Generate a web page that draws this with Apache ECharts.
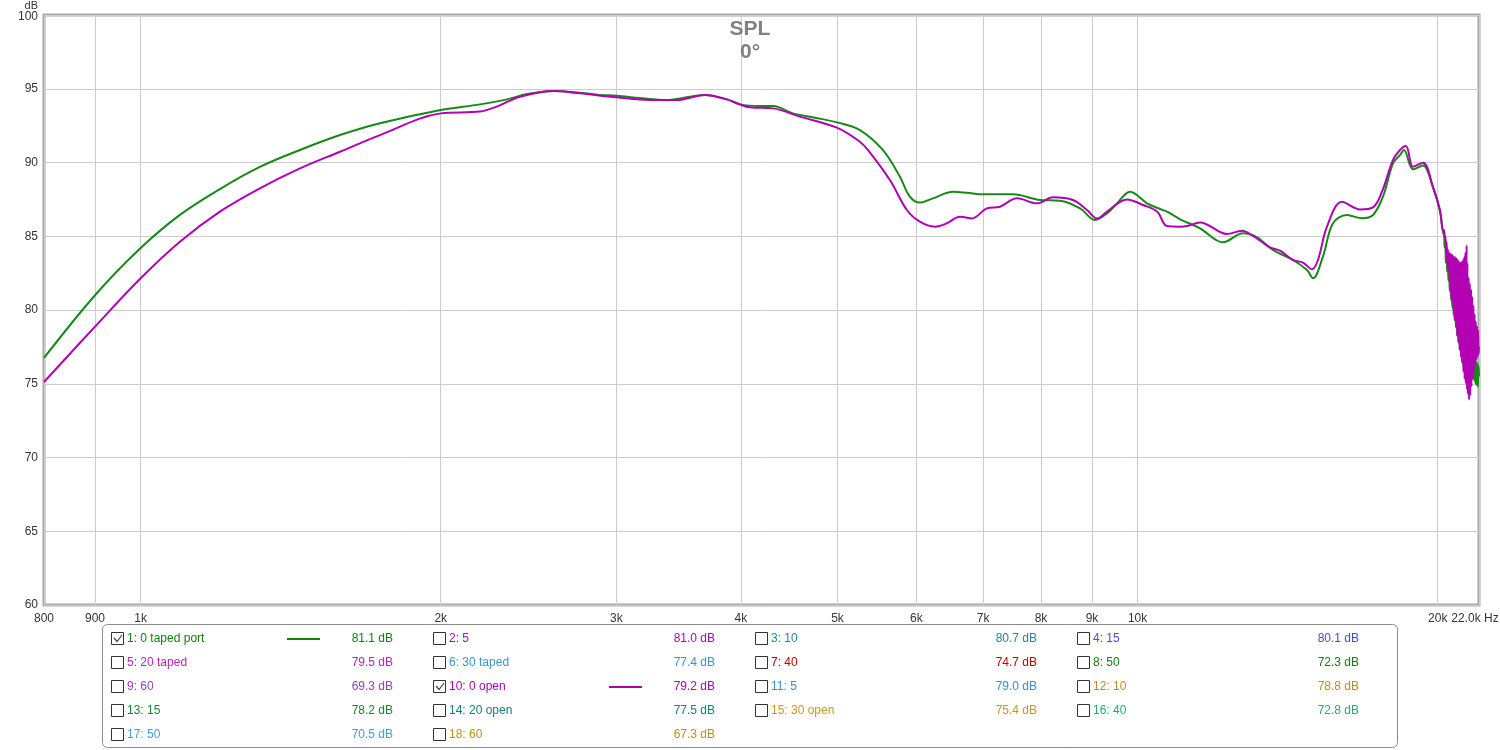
<!DOCTYPE html>
<html>
<head>
<meta charset="utf-8">
<script src="https://cdn.jsdelivr.net/npm/echarts@6/dist/echarts.min.js"></script>
<style>
html,body{margin:0;padding:0;background:#fff;}
#chart{width:1500px;height:750px;}
</style>
</head>
<body>
<div id="chart"></div>
<script>
// ---- Data ----
const xTickValues = [800, 900, 1000, 2000, 3000, 4000, 5000, 6000, 7000, 8000, 9000, 10000, 20000, 22000];
const xTickLabels = ['800', '900', '1k', '2k', '3k', '4k', '5k', '6k', '7k', '8k', '9k', '10k', '20k', '22.0k Hz'];

const tapedPortFreq = [800, 900, 1000, 1095, 1201, 1317, 1445, 1585, 1738, 2000, 2190, 2331, 2441, 2597, 2758, 2888, 3004, 3168, 3372, 3556, 3681, 3873, 3991, 4180, 4307, 4511, 4746, 4993, 5265, 5552, 5775, 5910, 6048, 6232, 6527, 6741, 6995, 7498, 7981, 8359, 8755, 9064, 9318, 9536, 9826, 10220, 10531, 10703, 10852, 11029, 11550, 12180, 12756, 13175, 13670, 14317, 14787, 14993, 15343, 15702, 16218, 16790, 17222, 17624, 18036, 18330, 18500, 18889, 19330, 19781, 20103, 20243,
  20300, 20320, 20360, 20380, 20420, 20440, 20480, 20500, 20540, 20560, 20600, 20620, 20660, 20680, 20720, 20740, 20780, 20800, 20840, 20860, 20900, 20920, 20960, 20980, 21020, 21040, 21080, 21100, 21140, 21160, 21200, 21220, 21260, 21280, 21320, 21340, 21380, 21400, 21440, 21460, 21500, 21520, 21560, 21580, 21620, 21640, 21680, 21700, 21740, 21760, 21800, 21820, 21860, 21880, 21920, 21940, 21980, 22000];
const tapedPortDb = [76.75, 81.0, 84.2, 86.45, 88.2, 89.7, 90.85, 91.86, 92.66, 93.56, 93.94, 94.28, 94.64, 94.85, 94.73, 94.58, 94.53, 94.37, 94.24, 94.46, 94.58, 94.28, 93.94, 93.83, 93.83, 93.33, 93.04, 92.72, 92.2, 90.85, 89.04, 87.68, 87.28, 87.57, 88.02, 87.95, 87.84, 87.84, 87.46, 87.41, 86.89, 86.1, 86.55, 87.23, 88.02, 87.23, 86.85, 86.67, 86.44, 86.15, 85.54, 84.59, 85.2, 84.93, 84.07, 83.39, 82.71, 82.15, 83.62, 85.88, 86.44, 86.22, 86.44, 87.68, 89.94, 90.5, 90.85, 89.54, 89.8, 88.3, 86.7, 85.3,
  85.0, 84.3, 84.2, 83.2, 83.6, 82.6, 83.0, 82.0, 82.4, 81.3, 82.0, 80.7, 81.5, 80.2, 81.0, 79.7, 80.5, 79.3, 80.0, 78.8, 79.6, 78.3, 79.2, 77.8, 78.8, 77.3, 78.4, 76.9, 78.0, 76.5, 77.6, 76.1, 77.3, 75.8, 77.0, 75.5, 76.8, 75.2, 76.6, 75.0, 76.5, 75.0, 76.6, 75.3, 76.8, 75.5, 76.8, 75.4, 76.7, 75.2, 76.6, 75.0, 76.5, 74.9, 76.4, 74.8, 76.2, 75.5];

const openFreq = [800, 900, 1000, 1095, 1201, 1317, 1445, 1585, 1738, 2000, 2190, 2277, 2402, 2597, 2758, 3004, 3242, 3451, 3681, 3873, 4085, 4307, 4584, 4993, 5265, 5364, 5643, 5869, 6048, 6261, 6437, 6633, 6820, 7060, 7276, 7567, 7926, 8225, 8614, 8898, 9106, 9318, 9758, 10126, 10459, 10703, 11029, 11209, 11550, 12293, 12726, 13054, 13576, 13893, 14317, 14651, 14959, 15167, 15486, 16031, 16712, 17222, 17583, 18036, 18330, 18586, 18889, 19330, 19781, 20103, 20243,
  20300, 20320, 20360, 20380, 20420, 20440, 20480, 20500, 20540, 20560, 20600, 20620, 20660, 20680, 20720, 20740, 20780, 20800, 20840, 20860, 20900, 20920, 20960, 20980, 21020, 21040, 21080, 21100, 21140, 21160, 21200, 21220, 21260, 21280, 21320, 21340, 21380, 21400, 21420, 21440, 21480, 21500, 21540, 21560, 21600, 21620, 21660, 21680, 21720, 21740, 21780, 21800, 21840, 21860, 21900, 21920, 21960, 21980, 22000];
const openDb = [75.12, 78.87, 82.15, 84.63, 86.67, 88.25, 89.6, 90.73, 91.86, 93.33, 93.45, 93.79, 94.46, 94.85, 94.69, 94.42, 94.24, 94.24, 94.58, 94.28, 93.74, 93.67, 93.11, 92.36, 91.41, 90.85, 88.81, 86.78, 85.99, 85.65, 85.88, 86.33, 86.21, 86.89, 87.0, 87.57, 87.23, 87.64, 87.46, 86.78, 86.21, 86.67, 87.5, 87.12, 86.67, 85.69, 85.65, 85.69, 85.94, 85.15, 85.38, 85.02, 84.25, 84.02, 83.39, 83.21, 82.76, 83.39, 85.65, 87.34, 86.82, 86.96, 88.02, 90.17, 90.85, 91.12, 89.72, 89.99, 88.36, 86.78, 85.4,
  85.4, 84.9, 85.0, 84.0, 84.6, 83.2, 84.1, 82.6, 83.9, 81.9, 83.8, 81.0, 83.8, 80.5, 83.7, 80.0, 83.6, 79.3, 83.6, 78.9, 83.5, 78.2, 83.4, 77.8, 83.3, 77.3, 83.2, 76.8, 83.3, 76.4, 83.4, 75.8, 83.6, 75.3, 83.9, 75.0, 84.4, 74.6, 83.2, 74.3, 82.2, 73.9, 81.8, 74.2, 81.4, 74.8, 80.9, 75.3, 80.3, 75.8, 79.7, 76.3, 79.2, 76.6, 78.9, 76.8, 78.6, 77.0, 77.5];

const legendNames = ['1: 0 taped port', '2: 5', '3: 10', '4: 15', '5: 20 taped', '6: 30 taped', '7: 40', '8: 50', '9: 60', '10: 0 open', '11: 5', '12: 10', '13: 15', '14: 20 open', '15: 30 open', '16: 40', '17: 50', '18: 60'];
const legendValues = ['81.1 dB', '81.0 dB', '80.7 dB', '80.1 dB', '79.5 dB', '77.4 dB', '74.7 dB', '72.3 dB', '69.3 dB', '79.2 dB', '79.0 dB', '78.8 dB', '78.2 dB', '77.5 dB', '75.4 dB', '72.8 dB', '70.5 dB', '67.3 dB'];
const legendColors = ['#0a860a', '#b000b0', '#1a8a9a', '#4a4ad0', '#c020c0', '#3a96c8', '#c00000', '#108010', '#9040c0', '#b000b0', '#3090d0', '#c08a20', '#108a30', '#108080', '#c09a20', '#20b070', '#40a0d8', '#c09010'];
const legendChecked = [true, false, false, false, false, false, false, false, false, true, false, false, false, false, false, false, false, false];

const greenColor = '#168a16';
const magentaColor = '#b400b4';

function pairs(f, v) { return f.map((x, i) => [x, v[i]]); }

// ---- Legend graphics ----
const FONT = '"Liberation Sans", Arial, sans-serif';
const graphics = [];
graphics.push({
  type: 'rect', shape: { x: 102.5, y: 624.5, width: 1295, height: 123, r: 5 },
  style: { fill: '#fff', stroke: '#8c8c8c', lineWidth: 1 }, z: 10
});
legendNames.forEach((name, i) => {
  const col = i % 4, row = Math.floor(i / 4);
  const cx = 111 + col * 322;
  const cy = 639 + row * 24;
  const color = legendColors[i];
  graphics.push({ type: 'rect', shape: { x: cx + 0.5, y: cy - 6.5, width: 12, height: 12 }, style: { fill: '#fff', stroke: '#333', lineWidth: 1 }, z: 11 });
  if (legendChecked[i]) {
    graphics.push({ type: 'polyline', shape: { points: [[cx + 3, cy - 1], [cx + 6, cy + 2.5], [cx + 11, cy - 4]] }, style: { stroke: '#444', lineWidth: 1.2, fill: null }, z: 12 });
    graphics.push({ type: 'line', shape: { x1: cx + 176, y1: cy, x2: cx + 209, y2: cy }, style: { stroke: color, lineWidth: 2 }, z: 11 });
  }
  graphics.push({ type: 'text', x: cx + 16, y: cy, style: { text: name, fill: color, font: '12px ' + FONT, textVerticalAlign: 'middle', textAlign: 'left' }, z: 11 });
  graphics.push({ type: 'text', x: cx + 282, y: cy, style: { text: legendValues[i], fill: color, font: '12px ' + FONT, textVerticalAlign: 'middle', textAlign: 'right' }, z: 11 });
});
graphics.push({ type: 'text', x: 38, y: 0, style: { text: 'dB', fill: '#333', font: '11px ' + FONT, textAlign: 'right', textVerticalAlign: 'top' }, z: 11 });

const chart = echarts.init(document.getElementById('chart'), null, { renderer: 'canvas' });
chart.setOption({
  animation: false,
  backgroundColor: '#fff',
  title: {
    text: 'SPL\n0°', left: 'center', top: 13,
    textStyle: { fontSize: 21, fontWeight: 'bold', color: '#808080', lineHeight: 23, fontFamily: FONT, align: 'center' }
  },
  grid: { left: 44, top: 15, right: 21, bottom: 145, show: true, borderColor: '#a8a8a8', borderWidth: 3, containLabel: false, outerBoundsMode: 'none' },
  xAxis: {
    type: 'log', logBase: 10, min: 800, max: 22000,
    axisLine: { show: false },
    axisTick: { show: false, customValues: xTickValues },
    axisLabel: {
      customValues: xTickValues,
      formatter: function (v) {
        const i = xTickValues.indexOf(Math.round(v));
        if (i < 0) return '';
        return i === xTickValues.length - 1 ? '{m|' + xTickLabels[i] + '}' : xTickLabels[i];
      },
      rich: { m: { color: '#333', fontSize: 12, fontFamily: FONT, padding: [0, 8, 0, 0] } },
      color: '#333', fontSize: 12, margin: 8, fontFamily: FONT,
      showMinLabel: true, showMaxLabel: true, hideOverlap: false
    },
    splitLine: { show: true, lineStyle: { color: '#cccccc', width: 1 } },
    minorTick: { show: false }, minorSplitLine: { show: false }
  },
  yAxis: {
    type: 'value', min: 60, max: 100, interval: 5,
    axisLine: { show: false }, axisTick: { show: false },
    axisLabel: {
      color: '#333', fontSize: 12, margin: 6, fontFamily: FONT,
      formatter: function (v) { return v === 100 ? '{t|100}' : String(v); },
      rich: { t: { color: '#333', fontSize: 12, fontFamily: FONT, padding: [4, 0, 0, 0] } }
    },
    splitLine: { show: true, lineStyle: { color: '#cccccc', width: 1 } }
  },
  series: [
    { name: '1: 0 taped port', type: 'line', data: pairs(tapedPortFreq, tapedPortDb), showSymbol: false, smooth: 0.35, lineStyle: { color: greenColor, width: 2 }, itemStyle: { color: greenColor }, z: 3 },
    { name: '10: 0 open', type: 'line', data: pairs(openFreq, openDb), showSymbol: false, smooth: 0.35, lineStyle: { color: magentaColor, width: 2 }, itemStyle: { color: magentaColor }, z: 4 }
  ],
  graphic: graphics
});
</script>
</body>
</html>
